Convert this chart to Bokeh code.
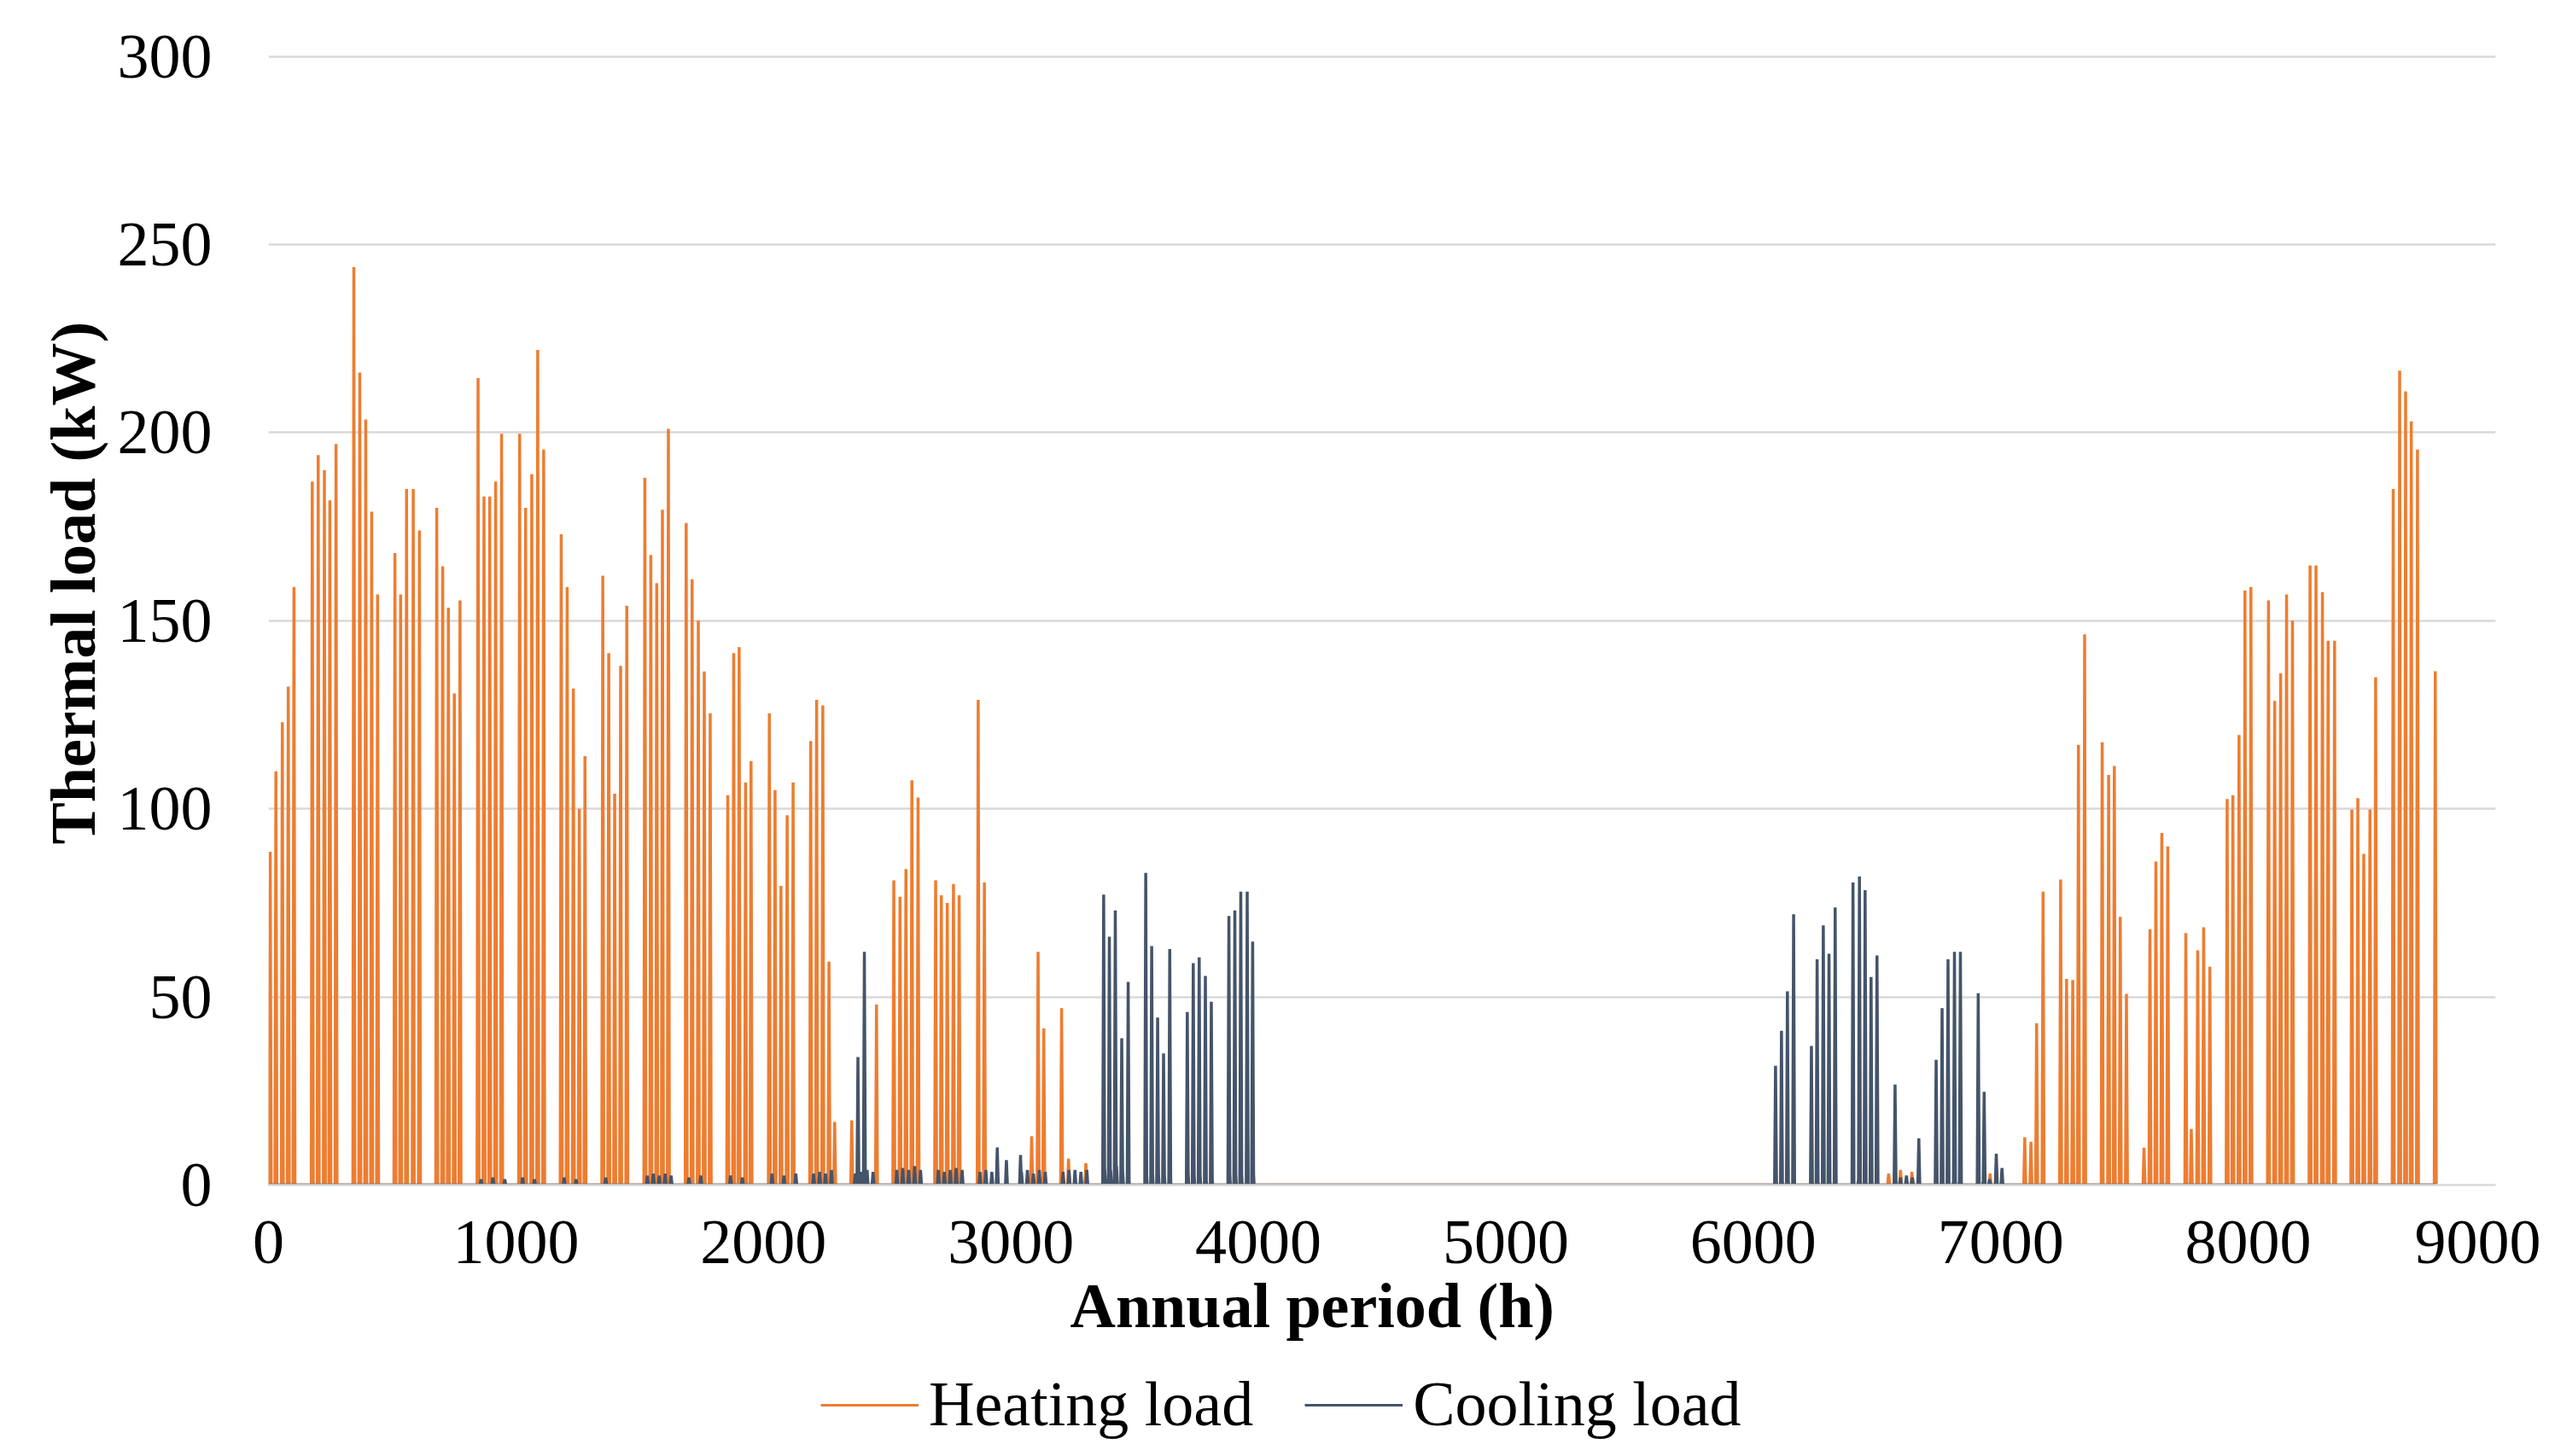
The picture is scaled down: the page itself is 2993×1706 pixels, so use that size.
from bokeh.plotting import figure
from bokeh.layouts import column
from bokeh.models import Legend, LegendItem, Range1d, FixedTicker, Title
from bokeh.embed import file_html
from bokeh.resources import INLINE

# ---------------- data ----------------
year_hours = 8760

# daily heating peaks (hour of year, kW)
heat_h = [7, 30, 56, 80, 103,
          177, 201, 226, 248, 273,
          345, 369, 393, 417, 441,
          511, 534, 558, 585, 610,
          680, 704, 727, 751, 774,
          847, 871, 894, 918, 942,
          1015, 1039, 1064, 1088, 1112,
          1183, 1207, 1232, 1256, 1279,
          1351, 1375, 1399, 1423, 1448,
          1521, 1545, 1569, 1592, 1616,
          1688, 1712, 1737, 1761, 1785,
          1856, 1880, 1902, 1928, 1950,
          2024, 2047, 2071, 2096, 2120,
          2191, 2215, 2240, 2265, 2288,
          2357, 2457,
          2527, 2552, 2576, 2600, 2625,
          2696, 2719, 2743, 2768, 2791,
          2868, 2893,
          3084, 3110, 3133, 3205, 3233, 3303,
          6547, 6595, 6641, 6957,
          7097, 7122, 7145, 7171,
          7242, 7266, 7291, 7314, 7339,
          7410, 7436, 7459, 7483, 7508,
          7579, 7603, 7627, 7651, 7675,
          7748, 7770, 7796, 7820, 7845,
          7915, 7938, 7963, 7987, 8011,
          8082, 8107, 8131, 8155, 8179,
          8250, 8274, 8300, 8323, 8349,
          8419, 8443, 8467, 8492, 8515,
          8586, 8612, 8636, 8659, 8684,
          8756]
heat_kw = [88.6, 110, 123, 132.5, 159,
           187, 194, 190, 182, 197,
           244, 216, 203.5, 179, 157,
           168, 157, 185, 185, 174,
           180, 164.5, 153.5, 130.7, 155.4,
           214.5, 183, 183, 187, 199.7,
           199.7, 180, 189, 222, 195.5,
           173, 159, 132, 100, 114,
           162, 141.4, 104, 138, 154,
           188, 167.5, 160, 179.5, 201,
           176, 161, 150, 136.5, 125.4,
           103.6, 141.4, 143, 107, 112.7,
           125.4, 105, 79.5, 98.3, 107,
           118, 129, 127.5, 59.4, 16.8,
           17.2, 48,
           81, 76.6, 84, 107.6, 103,
           81, 77, 75, 80, 77,
           129, 80.4,
           13, 62, 41.6, 47, 7, 5.8,
           3, 4, 3.5, 3,
           12.7, 11.5, 43, 78,
           81.2, 54.8, 54.5, 117, 146.4,
           117.7, 109, 111.4, 71.3, 50.8,
           9.9, 68, 86, 93.6, 90,
           67, 14.9, 62.4, 68.5, 58,
           102.6, 103.6, 119.6, 158, 159,
           155.4, 128.7, 136, 157, 150,
           164.7, 164.7, 157.6, 144.7, 144.7,
           99.8, 102.8, 88, 99.8, 135,
           185, 216.5, 211, 203, 195.5,
           136.6]

# daily cooling peaks (hour of year, kW)
cool_h = [2382, 2408,
          2945, 2982, 3039,
          3375, 3398, 3422, 3448, 3474,
          3545, 3569, 3593, 3617, 3642,
          3713, 3737, 3761, 3786, 3810,
          3881, 3905, 3929, 3955, 3977,
          6090, 6114, 6138, 6163,
          6235, 6258, 6283, 6306, 6331,
          6403, 6429, 6452, 6476, 6500,
          6573, 6669,
          6739, 6763, 6787, 6813, 6837,
          6909, 6933,
          6982, 7005]
cool_kw = [34, 62,
           10, 6.6, 8,
           77.2, 66, 73, 39, 54,
           83, 63.5, 44.5, 35, 62.7,
           46, 59, 60.5, 55.6, 48.7,
           71.5, 73, 78, 78, 64.7,
           31.7, 41, 51.5, 72,
           37, 60, 69, 61.5, 73.8,
           80.4, 82, 78.4, 55.3, 61,
           26.7, 12.4,
           33.3, 47, 60, 62, 62,
           51, 24.8,
           8.3, 4.5]

# small cooling loads near the baseline (hour of year, kW)
cool_low_h = [859, 907, 955, 1027, 1075, 1195, 1243, 1363,
              1531, 1555, 1579, 1603, 1627, 1699, 1747, 1867, 1915,
              2035, 2083, 2131, 2203, 2227, 2251, 2275,
              2371, 2395, 2419, 2443, 2539, 2563, 2587, 2611, 2635,
              2707, 2731, 2755, 2779, 2803, 2875, 2899, 2923,
              3043, 3067, 3091, 3115, 3139, 3211, 3235, 3259, 3283, 3307,
              3379, 3403, 3427, 3451, 3475, 3547, 3571, 3595, 3619, 3643,
              3715, 3739, 3763, 3787, 3811, 3883, 3907, 3931, 3955, 3979,
              6091, 6115, 6139, 6163, 6259, 6283, 6307, 6331,
              6427, 6451, 6475, 6499, 6595, 6619, 6643,
              6763, 6787, 6811, 6835, 6931, 6955]
cool_low_kw = [1.5, 2, 1.5, 2, 1.5, 2, 1.5, 2,
               2.5, 3, 2.5, 3, 2.5, 2, 2.5, 2.5, 2,
               3, 2.5, 3, 3, 3.5, 3, 4,
               3, 3.5, 4, 3.5, 4, 4.5, 4, 5, 4,
               4, 3.5, 4, 4.5, 4, 3.5, 4, 3.5,
               3.5, 4, 3, 4, 3.5, 3.5, 4, 4, 3.5, 4,
               4.5, 4, 5, 4.5, 4, 5, 5.5, 5, 4.5, 5,
               5.5, 5, 5.5, 5, 5.5, 5.5, 6, 5.5, 6, 5.5,
               3, 3.5, 3, 2.5, 3, 2.5, 3, 2,
               3, 3.5, 2.5, 3, 2, 2.5, 2,
               2, 2.5, 2, 2.5, 2, 1.5]

x_ticks = [0, 1000, 2000, 3000, 4000, 5000, 6000, 7000, 8000, 9000]
y_ticks = [0, 50, 100, 150, 200, 250, 300]

HEAT = "#ED7D31"
COOL = "#44546A"
FONT = "Liberation Serif"
FS = "74px"


def hourly_profile(hours, loads, ramp=4):
    """Zero-based hourly profile with a short ramp up to / down from each peak."""
    pts = sorted(zip(hours, loads))
    xs, ys = [0], [0]
    for h, v in pts:
        xs += [h - ramp, h, h + ramp]
        ys += [0, v, 0]
    xs.append(year_hours)
    ys.append(0)
    return xs, ys


hx, hy = hourly_profile(heat_h, heat_kw)
cx, cy = hourly_profile(cool_h + cool_low_h, cool_kw + cool_low_kw)

W = 2976
H_MAIN = 1602
p = figure(width=W, height=H_MAIN, output_backend="svg", toolbar_location=None,
           x_range=Range1d(0, 9000), y_range=Range1d(0, 300.6),
           min_border_left=314, min_border_right=53, min_border_top=63,
           min_border_bottom=214)
p.outline_line_color = None
p.background_fill_color = "white"
p.border_fill_color = "white"

p.line(hx, hy, line_color=HEAT, line_width=3.5)
p.line(cx, cy, line_color=COOL, line_width=3.5)

# grid
p.xgrid.grid_line_color = None
p.ygrid.grid_line_color = "#D9D9D9"
p.ygrid.grid_line_width = 2.5
p.ygrid.ticker = FixedTicker(ticks=y_ticks)

# axes
p.xaxis.ticker = FixedTicker(ticks=x_ticks)
p.yaxis.ticker = FixedTicker(ticks=y_ticks)
for ax in (p.xaxis[0], p.yaxis[0]):
    ax.major_tick_line_color = None
    ax.minor_tick_line_color = None
    ax.major_label_text_font = FONT
    ax.major_label_text_font_size = FS
    ax.major_label_text_color = "black"
p.xaxis.axis_line_color = "#D9D9D9"
p.xaxis.axis_line_width = 2.5
p.yaxis.axis_line_color = None
p.xaxis.major_label_standoff = 36
p.yaxis.major_label_standoff = 60

# y-axis title (a little above the frame centre, as in the reference)
p.add_layout(Title(text="Thermal load (kW)", align="left", offset=399,
                   text_font=FONT, text_font_size=FS, text_font_style="bold",
                   text_color="black", standoff=15), "left")

# x-axis title (a little left of the frame centre, as in the reference)
p.add_layout(Title(text="Annual period (h)", align="left", offset=939,
                   text_font=FONT, text_font_size=FS, text_font_style="bold",
                   text_color="black", standoff=8), "below")

# legend strip beneath the chart
lg = figure(width=W, height=1688 - H_MAIN, output_backend="svg", toolbar_location=None,
            x_range=Range1d(0, 1), y_range=Range1d(0, 1),
            x_axis_location=None, y_axis_location=None,
            min_border_left=0, min_border_right=0, min_border_top=0,
            min_border_bottom=0)
lg.outline_line_color = None
lg.grid.visible = False
lh = lg.line([-2, -1], [-2, -1], line_color=HEAT, line_width=3)
lc = lg.line([-2, -1], [-2, -1], line_color=COOL, line_width=3)
legend = Legend(items=[LegendItem(label="Heating load", renderers=[lh]),
                       LegendItem(label="Cooling load", renderers=[lc])],
                orientation="horizontal", location=(647, 0))
legend.label_text_font = FONT
legend.label_text_font_size = FS
legend.label_text_color = "black"
legend.glyph_width = 115
legend.glyph_height = 70
legend.label_standoff = 12
legend.spacing = 60
legend.padding = 0
legend.margin = 0
legend.border_line_color = None
legend.background_fill_alpha = 0
lg.add_layout(legend)

page = column(p, lg, spacing=0)
open("out.html", "w").write(file_html(page, INLINE))
